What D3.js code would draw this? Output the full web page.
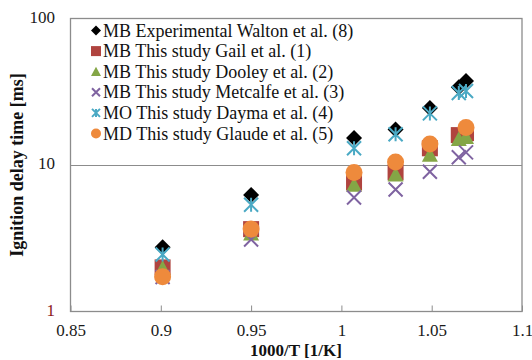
<!DOCTYPE html>
<html>
<head>
<meta charset="utf-8">
<script src="https://cdn.jsdelivr.net/npm/d3@7"></script>
<style>
  body { margin: 0; background: #fff; }
  svg { display: block; }
  svg text { font-family: "Liberation Serif", "Times New Roman", serif; }
</style>
</head>
<body>
<svg width="532" height="360"></svg>
<script>
// 1000/T values of the measured points
const invT = [0.901, 0.95, 1.007, 1.03, 1.049, 1.065, 1.069];

const walton = [2.75, 6.25, 15.3, 17.5, 24.5, 34, 37.5];
const gail = [2.0, 3.65, 7.6, 8.9, 13.0, 16.0, 16.5];
const dooley = [1.97, 3.4, 7.3, 8.6, 11.7, 15.0, 15.5];
const metcalfe = [1.72, 3.1, 6.0, 6.8, 9.0, 11.3, 12.2];
const dayma = [2.45, 5.35, 13.0, 16.2, 22.5, 31, 32];
const glaude = [1.73, 3.65, 8.9, 10.5, 13.9, null, 18.0];

const seriesNames = [
  'MB Experimental Walton et al. (8)',
  'MB This study Gail et al. (1)',
  'MB This study Dooley et al. (2)',
  'MB This study Metcalfe et al. (3)',
  'MO This study Dayma et al. (4)',
  'MD This study Glaude et al. (5)'
];
const xTicks = [0.85, 0.9, 0.95, 1, 1.05, 1.1];
const yTicks = [1, 10, 100];

const series = [
  { name: seriesNames[0], values: walton, shape: 'diamond', color: '#000000' },
  { name: seriesNames[1], values: gail, shape: 'square', color: '#b0443f' },
  { name: seriesNames[2], values: dooley, shape: 'triangle', color: '#84a646' },
  { name: seriesNames[3], values: metcalfe, shape: 'cross', color: '#7f63a1' },
  { name: seriesNames[4], values: dayma, shape: 'star', color: '#4aa9c4' },
  { name: seriesNames[5], values: glaude, shape: 'circle', color: '#ee8a3c' }
];

const serif = '"Liberation Serif", "Times New Roman", serif';
const svg = d3.select('svg');
const plotL = 70.5, plotR = 522, plotT = 18.5, plotB = 311.5;

const x = d3.scaleLinear().domain([0.85, 1.1]).range([plotL, plotR]);
const y = d3.scaleLog().domain([1, 100]).range([plotB, plotT]);

// gridline at 10
svg.append('line')
  .attr('x1', plotL).attr('x2', plotR)
  .attr('y1', Math.round(y(10)) + 0.5).attr('y2', Math.round(y(10)) + 0.5)
  .attr('stroke', '#8c8c8c').attr('stroke-width', 1);

// x axis with inside ticks
const xAxis = svg.append('g')
  .attr('transform', `translate(0, ${plotB})`)
  .call(d3.axisBottom(x).tickValues(xTicks).tickSize(-6).tickPadding(12)
    .tickFormat(d => d3.format('')(d)));
xAxis.attr('font-family', serif);
xAxis.select('.domain').remove();
xAxis.selectAll('line').attr('stroke', '#8c8c8c');
xAxis.selectAll('text')
  .attr('font-size', '17px').attr('fill', '#1a1a1a')
  .attr('font-family', serif);

// y tick labels
svg.selectAll('.ylab')
  .data(yTicks)
  .enter()
  .append('text')
  .attr('x', 55)
  .attr('y', d => y(d) + 4)
  .attr('text-anchor', 'end')
  .attr('font-family', serif)
  .attr('font-size', '17px')
  .attr('fill', d => d === 1 ? '#8b1a1a' : '#1a1a1a')
  .text(d => d);

// frame
svg.append('rect')
  .attr('x', plotL).attr('y', plotT)
  .attr('width', plotR - plotL).attr('height', plotB - plotT)
  .attr('fill', 'none').attr('stroke', '#8c8c8c').attr('stroke-width', 1.3);

function marker(g, shape, color, s) {
  if (shape === 'diamond') {
    g.append('path').attr('d', `M0,${-s}L${s},0L0,${s}L${-s},0Z`).attr('fill', color);
  } else if (shape === 'square') {
    g.append('rect').attr('x', -s).attr('y', -s).attr('width', 2 * s).attr('height', 2 * s).attr('fill', color);
  } else if (shape === 'triangle') {
    g.append('path').attr('d', `M0,${-s}L${s},${s * 0.85}L${-s},${s * 0.85}Z`).attr('fill', color);
  } else if (shape === 'circle') {
    g.append('circle').attr('r', s).attr('fill', color);
  } else if (shape === 'cross') {
    g.append('path').attr('d', `M${-s},${-s}L${s},${s}M${-s},${s}L${s},${-s}`)
      .attr('stroke', color).attr('stroke-width', 2).attr('fill', 'none');
  } else if (shape === 'star') {
    g.append('path').attr('d', `M${-s},${-s}L${s},${s}M${-s},${s}L${s},${-s}M0,${-s}L0,${s}`)
      .attr('stroke', color).attr('stroke-width', 2).attr('fill', 'none');
  }
}

const markSize = { diamond: 8, square: 8, triangle: 8, circle: 8.5, cross: 7, star: 7 };

series.forEach(sr => {
  sr.values.forEach((v, i) => {
    if (v == null) return;
    const g = svg.append('g').attr('transform', `translate(${x(invT[i])}, ${y(v)})`);
    marker(g, sr.shape, sr.color, markSize[sr.shape]);
  });
});

// legend
const legendSize = { diamond: 5, square: 5, triangle: 5, circle: 5, cross: 4, star: 4 };
series.forEach((sr, i) => {
  const ly = 30.5 + i * 20.6;
  const g = svg.append('g').attr('transform', `translate(96, ${ly})`);
  marker(g, sr.shape, sr.color, legendSize[sr.shape]);
  svg.append('text')
    .attr('x', 103).attr('y', ly + 6)
    .attr('font-family', serif)
    .attr('font-size', '18px').attr('fill', '#111')
    .text(sr.name);
});

// axis titles
svg.append('text')
  .attr('transform', `translate(23, ${(plotT + plotB) / 2}) rotate(-90)`)
  .attr('text-anchor', 'middle')
  .attr('font-family', serif)
  .attr('font-size', '18px').attr('font-weight', 'bold').attr('fill', '#111')
  .text('Ignition delay time [ms]');

svg.append('text')
  .attr('x', 296).attr('y', 356)
  .attr('text-anchor', 'middle')
  .attr('font-family', serif)
  .attr('font-size', '17px').attr('font-weight', 'bold').attr('fill', '#111')
  .text('1000/T [1/K]');
</script>
</body>
</html>
